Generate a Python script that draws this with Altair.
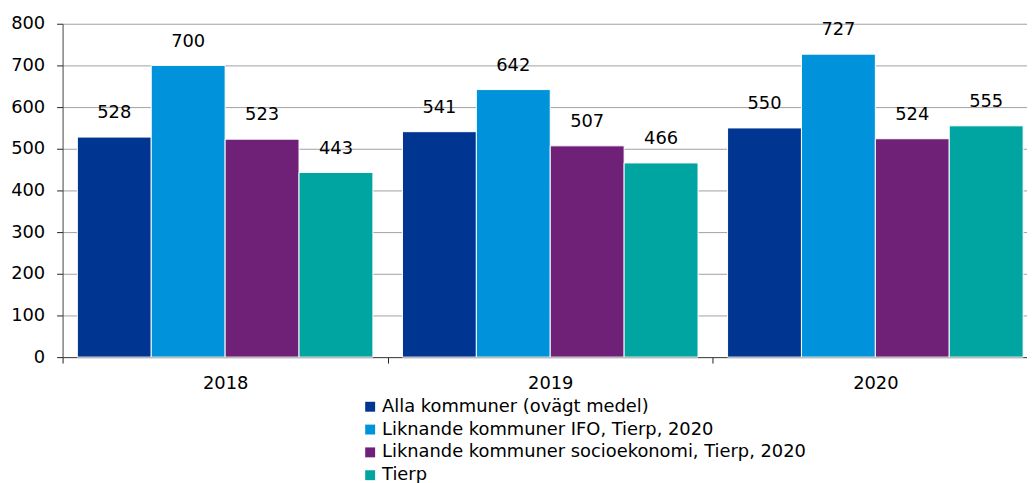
import altair as alt
import pandas as pd

years = ["2018", "2019", "2020"]
series = [
    "Alla kommuner (ovägt medel)",
    "Liknande kommuner IFO, Tierp, 2020",
    "Liknande kommuner socioekonomi, Tierp, 2020",
    "Tierp",
]
colors = ["#003591", "#0092DA", "#6E2177", "#00A4A1"]
values = {
    "Alla kommuner (ovägt medel)": [528, 541, 550],
    "Liknande kommuner IFO, Tierp, 2020": [700, 642, 727],
    "Liknande kommuner socioekonomi, Tierp, 2020": [523, 507, 524],
    "Tierp": [443, 466, 555],
}
y_ticks = [0, 100, 200, 300, 400, 500, 600, 700, 800]

rows = []
for s in series:
    for y, v in zip(years, values[s]):
        rows.append({"year": y, "series": s, "value": v})
df = pd.DataFrame(rows)

FONT = "DejaVu Sans"

base = alt.Chart(df).encode(
    x=alt.X("year:N", sort=years,
            scale=alt.Scale(paddingInner=0, paddingOuter=0, range=[0, 983]),
            axis=alt.Axis(title=None, labelAngle=0, tickBand="extent",
                          labelFontSize=18, labelFont=FONT, labelColor="#000",
                          labelPadding=12, tickSize=6, tickColor="#222",
                          domainColor="#444", grid=False)),
    xOffset=alt.XOffset("series:N", sort=series,
                        scale=alt.Scale(paddingInner=0, paddingOuter=0.2)),
)

bars = base.mark_bar(stroke="white", strokeWidth=1).encode(
    y=alt.Y("value:Q", scale=alt.Scale(domain=[0, 800], nice=False),
            axis=alt.Axis(title=None, values=y_ticks, labelFontSize=18,
                          labelFont=FONT, labelColor="#000", labelPadding=12,
                          tickSize=6, tickColor="#222", domainColor="#444",
                          grid=True, gridColor="#a0a0a0", gridWidth=1)),
    color=alt.Color("series:N", sort=series,
                    scale=alt.Scale(domain=series, range=colors),
                    legend=alt.Legend(title=None, orient="none", legendX=301,
                                      legendY=377, direction="vertical",
                                      symbolType="square", symbolSize=100,
                                      symbolStrokeWidth=0,
                                      labelFontSize=18, labelFont=FONT,
                                      labelColor="#000", rowPadding=5,
                                      labelLimit=600, labelOffset=3)),
)

labels = base.mark_text(baseline="middle", dy=-24, fontSize=18, font=FONT,
                        color="#000").encode(
    y=alt.Y("value:Q"),
    text=alt.Text("value:Q"),
)

chart = (bars + labels).properties(
    width=972, height=336,
    autosize=alt.AutoSizeParams(type="none"),
    padding={"left": 55, "top": 14, "right": 0, "bottom": 125},
).configure_view(stroke=None)

chart.save("out.html", embed_options={"renderer": "svg", "actions": False})
